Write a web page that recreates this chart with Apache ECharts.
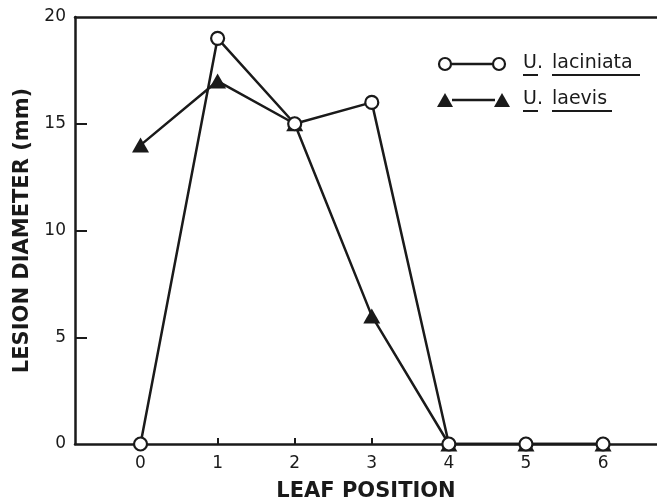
<!DOCTYPE html>
<html><head><meta charset="utf-8">
<script src="https://cdn.jsdelivr.net/npm/echarts@6/dist/echarts.min.js"></script>
<style>html,body{margin:0;padding:0;background:#fff}#c{width:657px;height:504px}</style>
</head><body><div id="c"></div>
<script>
var leafPositions = [0, 1, 2, 3, 4, 5, 6];
var laciniata = [0, 19, 15, 16, 0, 0, 0];
var laevis = [14, 17, 15, 6, 0, 0, 0];
var xTicks = [0, 1, 2, 3, 4, 5, 6];
var yTicks = [0, 5, 10, 15, 20];
var seriesNames = ['U. laciniata', 'U. laevis'];

var ink = '#1a1a1a';
var font = 'DejaVu Sans';
function pts(ys){ return leafPositions.map(function(x,i){ return [x, ys[i]]; }); }

var chart = echarts.init(document.getElementById('c'));
chart.setOption({
  animation: false,
  backgroundColor: '#fff',
  grid: { left: 75, top: 17, right: 0, bottom: 60, containLabel: false, outerBoundsMode: 'none' },
  xAxis: [{
    type: 'value', min: -0.85, max: 6.7,
    name: 'LEAF POSITION', nameLocation: 'middle', nameGap: 37,
    nameTextStyle: { fontFamily: font, fontSize: 21, color: ink, fontWeight: 'bold' },
    axisLine: { show: true, lineStyle: { color: ink, width: 2.5 } },
    axisTick: { show: true, inside: true, length: 6, customValues: xTicks, lineStyle: { color: ink, width: 2 } },
    axisLabel: { customValues: xTicks, fontFamily: font, fontSize: 17, color: ink, margin: 11 },
    splitLine: { show: false }
  }, {
    type: 'value', min: -0.85, max: 6.7, position: 'top',
    axisLine: { show: true, onZero: false, lineStyle: { color: ink, width: 2.5 } },
    axisTick: { show: false }, axisLabel: { show: false }, splitLine: { show: false }
  }],
  yAxis: {
    type: 'value', min: 0, max: 20, interval: 5,
    name: 'LESION DIAMETER (mm)', nameLocation: 'middle', nameGap: 41,
    nameTextStyle: { fontFamily: font, fontSize: 21, color: ink, fontWeight: 'bold' },
    axisLine: { show: true, onZero: false, lineStyle: { color: ink, width: 2.5 } },
    axisTick: { show: true, inside: true, length: 12, customValues: [5, 10, 15], lineStyle: { color: ink, width: 2 } },
    axisLabel: { customValues: yTicks, fontFamily: font, fontSize: 17, color: ink, margin: 9 },
    splitLine: { show: false }
  },
  series: [{
    name: seriesNames[0], type: 'line', data: pts(laciniata),
    symbol: 'circle', symbolSize: 13, showAllSymbol: true,
    lineStyle: { color: ink, width: 2.5 },
    itemStyle: { color: '#fff', borderColor: ink, borderWidth: 2.2 },
    z: 3
  }, {
    name: seriesNames[1], type: 'line', data: pts(laevis),
    symbol: 'triangle', symbolSize: [17, 15], showAllSymbol: true,
    lineStyle: { color: ink, width: 2.5 },
    itemStyle: { color: ink, borderWidth: 0 },
    z: 2
  }],
  graphic: [
    { type: 'line', shape: { x1: 445, y1: 64, x2: 499, y2: 64 }, style: { stroke: ink, lineWidth: 2.5 } },
    { type: 'circle', shape: { cx: 445, cy: 64, r: 6 }, style: { fill: '#fff', stroke: ink, lineWidth: 2.2 } },
    { type: 'circle', shape: { cx: 499, cy: 64, r: 6 }, style: { fill: '#fff', stroke: ink, lineWidth: 2.2 } },
    { type: 'text', x: 523, y: 63, style: { text: 'U.', fontFamily: font, fontSize: 19, fill: ink, verticalAlign: 'middle' } },
    { type: 'text', x: 552, y: 63, style: { text: 'laciniata', fontFamily: font, fontSize: 19, fill: ink, verticalAlign: 'middle' } },
    { type: 'line', shape: { x1: 523, y1: 75, x2: 538, y2: 75 }, style: { stroke: ink, lineWidth: 2 } },
    { type: 'line', shape: { x1: 552, y1: 75, x2: 640, y2: 75 }, style: { stroke: ink, lineWidth: 2 } },

    { type: 'line', shape: { x1: 452, y1: 100, x2: 495, y2: 100 }, style: { stroke: ink, lineWidth: 2.5 } },
    { type: 'polygon', shape: { points: [[437, 107], [453, 107], [445, 93]] }, style: { fill: ink } },
    { type: 'polygon', shape: { points: [[494, 107], [510, 107], [502, 93]] }, style: { fill: ink } },
    { type: 'text', x: 523, y: 99, style: { text: 'U.', fontFamily: font, fontSize: 19, fill: ink, verticalAlign: 'middle' } },
    { type: 'text', x: 552, y: 99, style: { text: 'laevis', fontFamily: font, fontSize: 19, fill: ink, verticalAlign: 'middle' } },
    { type: 'line', shape: { x1: 523, y1: 111, x2: 538, y2: 111 }, style: { stroke: ink, lineWidth: 2 } },
    { type: 'line', shape: { x1: 552, y1: 111, x2: 612, y2: 111 }, style: { stroke: ink, lineWidth: 2 } }
  ]
});
</script></body></html>
